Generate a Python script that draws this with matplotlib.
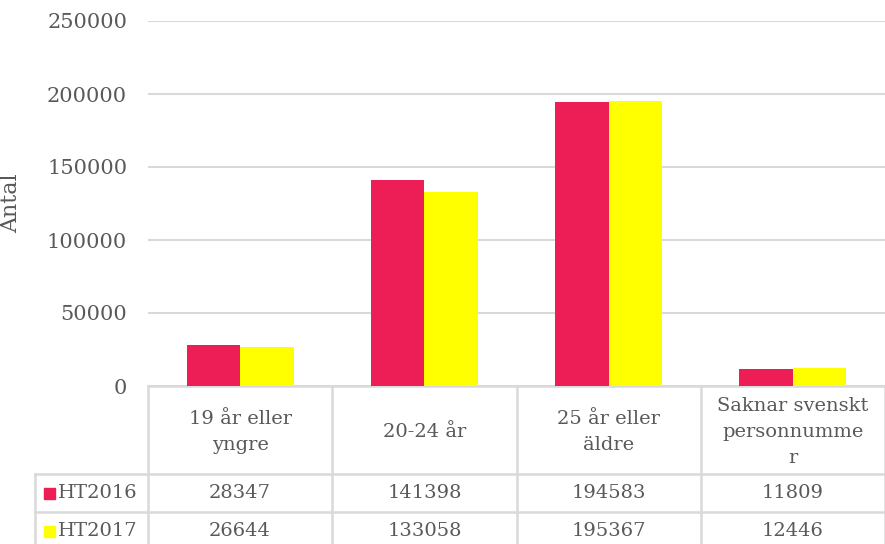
import numpy as np
import matplotlib.pyplot as plt
from matplotlib.patches import Rectangle
from matplotlib.transforms import blended_transform_factory

categories = ["19 år eller\nyngre", "20-24 år", "25 år eller\näldre", "Saknar svenskt\npersonnumme\nr"]
series = ["HT2016", "HT2017"]
ht2016 = [28347, 141398, 194583, 11809]
ht2017 = [26644, 133058, 195367, 12446]
colors = ["#ED1E55", "#FFFF00"]

plt.rcParams["font.family"] = ["DejaVu Serif"]
grey = "#595959"
line_c = "#D9D9D9"

W, H = 885, 544
fig = plt.figure(figsize=(W / 100, H / 100), dpi=100)
ax_l, ax_r, ax_t, ax_b = 148, 885, 21, 386
ax = fig.add_axes([ax_l / W, 1 - ax_b / H, (ax_r - ax_l) / W, (ax_b - ax_t) / H])

x = np.arange(len(categories))
bw = 0.29
ax.bar(x - bw / 2, ht2016, bw, color=colors[0], zorder=3)
ax.bar(x + bw / 2, ht2017, bw, color=colors[1], zorder=3)

ax.set_xlim(-0.5, 3.5)
ax.set_ylim(0, 250000)
ax.set_yticks(range(0, 250001, 50000))
ax.yaxis.grid(True, color=line_c, lw=1.5, zorder=0)
ax.set_xticks([])
ax.tick_params(axis="y", length=0, pad=15, labelsize=15, labelcolor=grey)
for s in ax.spines.values():
    s.set_visible(False)
ax.set_ylabel("Antal", fontsize=16, color=grey)
ax.yaxis.set_label_coords((22 - ax_l) / (ax_r - ax_l), 0.5)

# data table underneath the bars
tr = blended_transform_factory(ax.transData, ax.transAxes)
px_per_cat = (ax_r - ax_l) / 4


def ay(py):
    return (ax_b - py) / (ax_b - ax_t)


def dx(px):
    return -0.5 + (px - ax_l) / px_per_cat


left_x = dx(35)
rows = [386, 474, 512, 550]
kw = dict(color=line_c, lw=1.8, transform=tr, clip_on=False)

ax.plot([-0.5, 3.5], [ay(386)] * 2, **kw)
for r in rows[1:]:
    ax.plot([left_x, 3.5], [ay(r)] * 2, **kw)
for e in np.arange(-0.5, 4.0, 1.0):
    ax.plot([e, e], [ay(386), ay(560)], **kw)
ax.plot([left_x, left_x], [ay(474), ay(560)], **kw)

for i, c in enumerate(categories):
    ax.text(i, ay(432), c, ha="center", va="center", fontsize=14, color=grey,
            transform=tr, linespacing=1.55)

for j, (name, vals) in enumerate(zip(series, [ht2016, ht2017])):
    yc_px = (rows[j + 1] + rows[j + 2]) / 2
    yc = ay(yc_px)
    ax.add_patch(Rectangle((dx(44), ay(yc_px + 5.5)), dx(55) - dx(44), ay(yc_px - 5.5) - ay(yc_px + 5.5),
                           color=colors[j], transform=tr, clip_on=False))
    ax.text(dx(58), yc, name, ha="left", va="center", fontsize=14,
            color=grey, transform=tr)
    for i, v in enumerate(vals):
        ax.text(i, yc, str(v), ha="center", va="center", fontsize=14,
                color=grey, transform=tr)

fig.savefig("out.png", dpi=100)
